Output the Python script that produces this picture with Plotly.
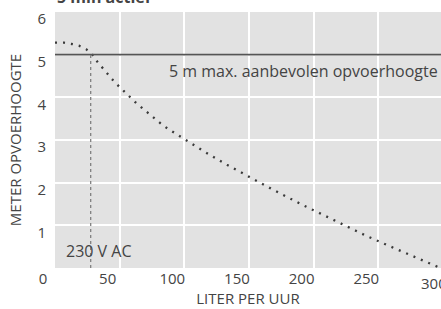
import plotly.graph_objects as go

# Data (x = liters per hour, y = head in meters)
flow_lph = [0, 7, 13, 18.5, 24, 28, 31.5, 35.5, 40, 44, 48, 53, 57.5, 62, 67, 72, 76.5, 82, 87,
            100, 116.5, 133, 150, 167, 190, 212.5, 224, 241, 259, 276, 298]
head_m = [5.28, 5.28, 5.25, 5.21, 5.13, 5.04, 4.88, 4.73, 4.58, 4.43, 4.30, 4.15, 4.02, 3.89, 3.76,
          3.63, 3.50, 3.38, 3.27, 3.02, 2.71, 2.42, 2.13, 1.86, 1.50, 1.165, 1.00, 0.75, 0.51, 0.28, 0.0]
max_head = 5
operating_flow = 27.6
x_ticks = [0, 50, 100, 150, 200, 250]
y_ticks = [1, 2, 3, 4, 5, 6]
x_max_label = "300"
title_text = "5 min actief"
max_label = "5 m max. aanbevolen opvoerhoogte"
voltage_label = "230 V AC"

FONT = "Open Sans, DejaVu Sans, sans-serif"
TXT = "#444444"

fig = go.Figure()
fig.add_trace(go.Scatter(x=flow_lph, y=head_m, mode="lines",
                         line=dict(color="#3a3a3a", width=2.3, dash="2px,6px"),
                         hoverinfo="skip", showlegend=False))
fig.add_trace(go.Scatter(x=[0, 300], y=[max_head, max_head], mode="lines",
                         line=dict(color="#555555", width=1.6),
                         hoverinfo="skip", showlegend=False))
fig.add_trace(go.Scatter(x=[operating_flow, operating_flow], y=[0, max_head], mode="lines",
                         line=dict(color="#808080", width=1.3, dash="3px,3px"),
                         hoverinfo="skip", showlegend=False))

fig.add_annotation(x=1.0, xref="paper", y=max_head, yref="y", text=max_label,
                   showarrow=False, xanchor="right", yanchor="top", yshift=-3, xshift=-1,
                   font=dict(family=FONT, size=16, color=TXT))
fig.add_annotation(x=operating_flow, xref="x", y=0, yref="y", text=voltage_label,
                   showarrow=False, xanchor="center", yanchor="bottom", yshift=4, xshift=8,
                   font=dict(family=FONT, size=16, color=TXT))
fig.add_annotation(x=0.982, xref="paper", y=0, yref="paper", text=x_max_label,
                   showarrow=False, xanchor="center", yanchor="top", yshift=-3,
                   font=dict(family=FONT, size=15, color=TXT))
fig.add_annotation(x=0.0, xref="paper", y=1.0, yref="paper", text="<b>" + title_text + "</b>",
                   showarrow=False, xanchor="left", yanchor="bottom", yshift=2,
                   font=dict(family=FONT, size=16, color=TXT))

fig.update_layout(
    width=441, height=309,
    margin=dict(l=55, r=0, t=12, b=41),
    paper_bgcolor="white", plot_bgcolor="#e2e2e2",
    font=dict(family=FONT, size=15, color=TXT),
    xaxis=dict(range=[0, 298.5], tickvals=x_ticks, showgrid=True, gridcolor="white", gridwidth=1.5,
               zeroline=False, showline=False, ticks="", ticklabelshift=-12,
               ticklabeloverflow="allow",
               title=dict(text="LITER PER UUR", font=dict(size=15), standoff=4)),
    yaxis=dict(range=[0, 6], tickvals=y_ticks, showgrid=True, gridcolor="white", gridwidth=1.5,
               zeroline=False, showline=False, ticks="", ticklabelshift=7,
               ticklabelstandoff=8, ticklabeloverflow="allow",
               title=dict(text="METER OPVOERHOOGTE", font=dict(size=15), standoff=12)),
)

fig.write_html("out.html", config={"displayModeBar": False},
               post_script="document.body.style.margin='0';document.body.style.overflow='hidden';")
